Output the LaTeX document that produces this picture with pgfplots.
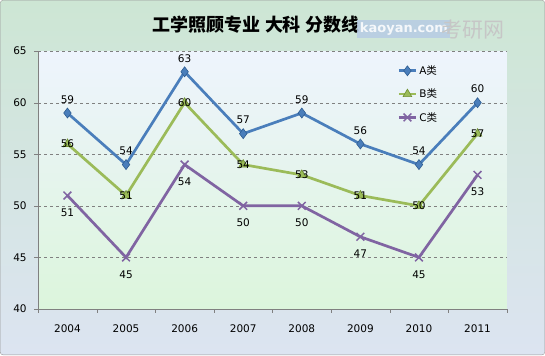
\documentclass[border=0pt]{standalone}
\usepackage{fontspec}
\usepackage{pgfplots}
\pgfplotsset{compat=1.18}
\setmainfont{DejaVu Sans}
\newfontfamily\cjk{Noto Sans CJK SC}
\definecolor{cA}{HTML}{4A7EBB}
\definecolor{cAd}{HTML}{2E5D91}
\definecolor{cB}{HTML}{9BBB59}
\definecolor{cBd}{HTML}{6E8F2E}
\definecolor{cC}{HTML}{8064A2}
\definecolor{bgTop}{HTML}{CDE6D4}
\definecolor{bgBot}{HTML}{DCE4F1}
\definecolor{paTop}{HTML}{EEF4FD}
\definecolor{paBot}{HTML}{DCF5DC}
\begin{document}
\begin{tikzpicture}[x=1pt,y=1pt]
\shade[top color=bgTop, bottom color=bgBot, draw=gray!80, rounded corners=3pt] (-38,-46) rectangle (507,309);
\node[font=\cjk\bfseries\fontsize{18}{20}\selectfont] at (218,285) {工学照顾专业 大科 分数线};
\node[fill=cA!40, text=white, font=\bfseries\fontsize{13}{15}\selectfont, inner sep=2.5pt, opacity=0.85] at (366,280) {kaoyan.com};
\node[text=gray!45, font=\cjk\fontsize{21}{23}\selectfont] at (435,280) {考研网};
\begin{axis}[
  at={(0,0)}, anchor=south west,
  scale only axis, width=469pt, height=258pt,
  xmin=-0.5, xmax=7.5, ymin=40, ymax=65,
  xtick={0,...,7},
  xticklabels={2004,2005,2006,2007,2008,2009,2010,2011},
  ytick={40,45,...,65},
  minor xtick={-0.5,0.5,...,7.5},
  major x tick style={draw=none},
  minor x tick style={gray},
  y tick style={gray},
  tick align=outside,
  major tick length=4pt, minor tick length=4pt,
  axis x line*=bottom, axis y line*=left,
  axis line style={gray, -},
  ymajorgrids, major grid style={gray, dashed},
  tick label style={font=\fontsize{10.5}{12}\selectfont},
  xticklabel style={yshift=-8pt},
  yticklabel style={xshift=-4pt},
  /pgf/number format/assume math mode=true,
  axis background/.style={shade, top color=paTop, bottom color=paBot},
  clip=false,
  legend style={at={(0.76,0.96)}, anchor=north west, draw=none, fill=none,
     font=\fontsize{10.5}{12}\selectfont, row sep=9pt},
  legend cell align=left,
  nodes near coords,
  every node near coord/.append style={font=\fontsize{10.5}{12}\selectfont, text=black},
]
\addplot[cA, line width=2.7pt, mark=diamond*, mark size=5pt,
  mark options={fill=cA, draw=cAd, line width=0.6pt},
  every node near coord/.append style={anchor=south, yshift=6pt}]
  coordinates {(0,59)(1,54)(2,63)(3,57)(4,59)(5,56)(6,54)(7,60)};
\addlegendentry{A{\cjk 类}}
\addplot[cB, line width=2.7pt, mark=triangle*, mark size=5pt,
  mark options={fill=cB, draw=cBd, line width=0.6pt},
  every node near coord/.append style={anchor=center}]
  coordinates {(0,56)(1,51)(2,60)(3,54)(4,53)(5,51)(6,50)(7,57)};
\addlegendentry{B{\cjk 类}}
\addplot[cC, line width=2.7pt, mark=x, mark size=5.5pt,
  mark options={draw=cC, line width=1.5pt},
  every node near coord/.append style={anchor=north, yshift=-9pt}]
  coordinates {(0,51)(1,45)(2,54)(3,50)(4,50)(5,47)(6,45)(7,53)};
\addlegendentry{C{\cjk 类}}
\end{axis}
\end{tikzpicture}
\end{document}
